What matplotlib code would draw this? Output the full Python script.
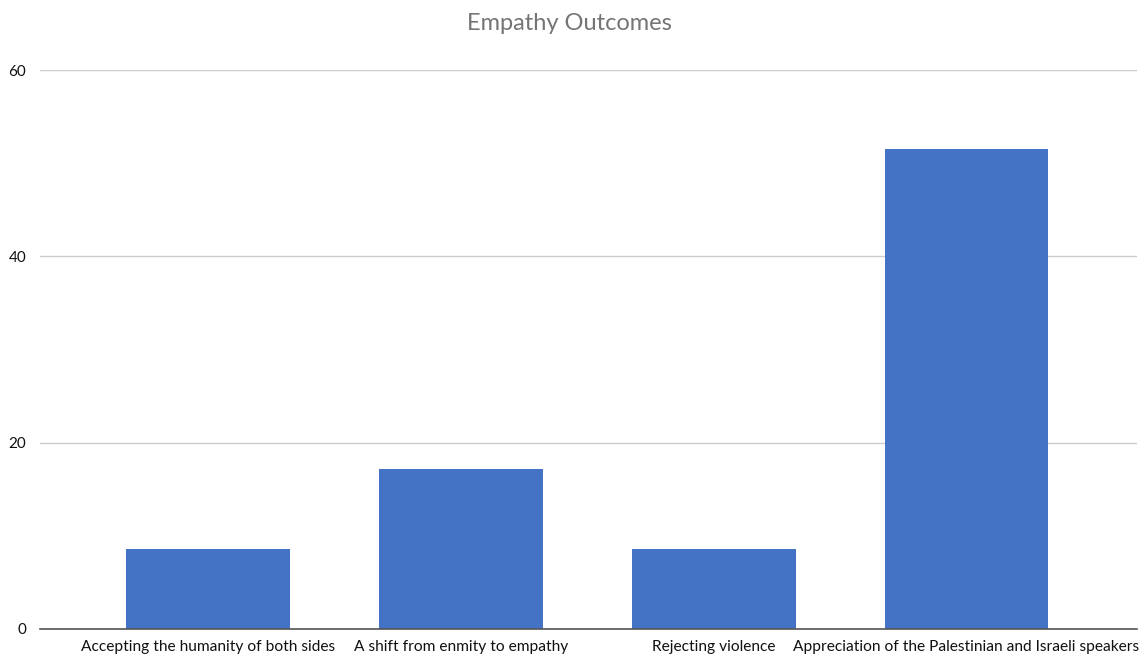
import matplotlib.pyplot as plt

# data
categories = ['Accepting the humanity of both sides', 'A shift from enmity to empathy',
              'Rejecting violence', 'Appreciation of the Palestinian and Israeli speakers']
values = [8.6, 17.2, 8.6, 51.5]
yticks = [0, 20, 40, 60]

plt.rcParams['font.family'] = ['Lato', 'DejaVu Sans']

fig = plt.figure(figsize=(11.47, 6.55), dpi=100)
ax = fig.add_axes([40 / 1147, 1 - 629 / 655, 1097 / 1147, (629 - 70) / 655])

x = list(range(len(categories)))
ax.bar(x, values, width=0.648, color='#4472C4', zorder=3)

ax.set_xlim(-0.664, 3.674)
ax.set_ylim(0, 60)
ax.set_yticks(yticks)
ax.set_yticklabels([str(t) for t in yticks], fontsize=11, color='#111111')
ax.set_xticks(x)
ax.set_xticklabels(categories, fontsize=11.2, color='#111111')
ax.tick_params(axis='both', length=0)
ax.tick_params(axis='y', pad=10)
ax.tick_params(axis='x', pad=8)

ax.grid(axis='y', color='#cccccc', linewidth=1, zorder=0)
for side in ['top', 'right', 'left']:
    ax.spines[side].set_visible(False)
ax.spines['bottom'].set_color('#555555')
ax.spines['bottom'].set_linewidth(1.2)
ax.spines['bottom'].set_zorder(4)

fig.text(569 / 1147, 1 - 24 / 655, 'Empathy Outcomes', ha='center', va='center',
         fontsize=17, color='#757575')

fig.savefig('out.png', dpi=100)
